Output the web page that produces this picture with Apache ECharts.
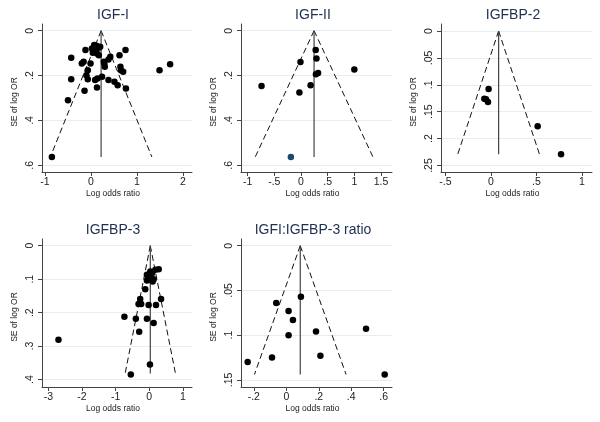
<!DOCTYPE html>
<html><head><meta charset="utf-8">
<script src="https://cdn.jsdelivr.net/npm/echarts@6/dist/echarts.min.js"></script>
<style>html,body{margin:0;padding:0;background:#fff}#c{width:600px;height:422px}</style>
</head><body><div id="c"></div>
<script>
// ---- data ----
const titles = ['IGF-I', 'IGF-II', 'IGFBP-2', 'IGFBP-3', 'IGFI:IGFBP-3 ratio'];

const igf1X  = [-0.85,-0.50,-0.43,-0.43,-0.20,-0.16,-0.12,-0.14,-0.10,-0.07,-0.07,-0.01,0.04,0.08,0.12,0.13,0.17,0.20,0.09,0.13,0.14,0.24,0.17,0.28,0.30,0.29,0.38,0.42,0.38,0.51,0.58,0.62,0.64,0.65,0.70,0.75,0.76,1.49,1.72,0.07,0.02];
const igf1SE = [0.563,0.310,0.216,0.121,0.146,0.138,0.086,0.268,0.198,0.176,0.216,0.146,0.098,0.086,0.067,0.101,0.076,0.071,0.220,0.253,0.213,0.205,0.109,0.138,0.161,0.146,0.128,0.116,0.220,0.228,0.243,0.109,0.161,0.176,0.183,0.086,0.258,0.176,0.149,0.064,0.079];

const igf2X  = [0.275,0.29,-0.01,1.00,0.32,0.28,-0.74,0.18,-0.03];
const igf2SE = [0.086,0.124,0.140,0.173,0.188,0.194,0.247,0.243,0.275];
const igf2BlueX  = [-0.19];
const igf2BlueSE = [0.563];

const bp2X  = [-0.026,-0.073,-0.055,-0.033,0.513,0.77];
const bp2SE = [0.108,0.126,0.127,0.132,0.177,0.229];

const bp3X  = [0.03,0.18,0.28,-0.07,0.05,0.13,-0.07,0.10,0.08,-0.03,-0.12,-0.27,0.35,-0.32,-0.24,-0.02,0.20,-0.74,-0.40,-0.07,0.13,-0.30,-2.70,0.02,-0.55];
const bp3SE = [0.077,0.072,0.070,0.087,0.092,0.100,0.104,0.107,0.082,0.095,0.130,0.159,0.159,0.174,0.174,0.177,0.177,0.212,0.218,0.218,0.231,0.257,0.281,0.355,0.385];

const ratioX  = [0.09,-0.062,0.014,0.041,0.014,0.183,0.491,0.21,-0.088,-0.238,0.606];
const ratioSE = [0.057,0.064,0.073,0.083,0.100,0.096,0.093,0.123,0.125,0.130,0.144];

const pooled = [0.22, 0.245, 0.084, 0.03, 0.086];
const seMax  = [0.563, 0.563, 0.229, 0.382, 0.144];

const xTicks = [[-1,0,1,2],[-1,-0.5,0,0.5,1,1.5],[-0.5,0,0.5,1],[-3,-2,-1,0,1],[-0.2,0,0.2,0.4,0.6]];
const yTicks = [[0,0.2,0.4,0.6],[0,0.2,0.4,0.6],[0,0.05,0.1,0.15,0.2,0.25],[0,0.1,0.2,0.3,0.4],[0,0.05,0.1,0.15]];

// ---- layout ----
const xRange = [[-1.065,2.196],[-1.125,1.706],[-0.549,1.11],[-3.19,1.27],[-0.279,0.651]];
const yRange = [[-0.030,0.630],[-0.030,0.630],[-0.013,0.262],[-0.020,0.422],[-0.0075,0.158]];
const grids = [
  {left:42, top:24, width:150, height:148},
  {left:241, top:24, width:151, height:148},
  {left:441, top:24, width:151, height:148},
  {left:42, top:239, width:150, height:148},
  {left:241, top:239, width:151, height:148}
];
const titlePos = [[113,8],[313,8],[513,8],[113,223],[313,223]];

const FONT = '"Liberation Sans", Arial, sans-serif';
const fmt = v => { let s = String(+(+v).toFixed(4)); return s.replace(/^(-?)0\./, '$1.'); };
const zip = (a, b) => a.map((v, i) => [v, b[i]]);

const pointsX = [igf1X, igf2X, bp2X, bp3X, ratioX];
const pointsSE = [igf1SE, igf2SE, bp2SE, bp3SE, ratioSE];

const option = {
  animation: false,
  backgroundColor: '#fff',
  title: titles.map((t, i) => ({
    text: t, left: titlePos[i][0], top: titlePos[i][1], textAlign: 'center', padding: 0,
    textStyle: {fontSize: 14, fontWeight: 'normal', color: '#1e2f50', fontFamily: FONT}
  })),
  grid: grids.map(g => Object.assign({containLabel: false}, g)),
  xAxis: xTicks.map((tk, i) => ({
    gridIndex: i, type: 'value', min: xRange[i][0], max: xRange[i][1],
    name: 'Log odds ratio', nameLocation: 'middle', nameGap: 16,
    nameTextStyle: {fontSize: 8.5, color: '#222', fontFamily: FONT, padding: [0, 8, 0, 0]},
    axisLine: {show: true, onZero: false, lineStyle: {color: '#444', width: 1}},
    axisTick: {show: true, length: 4, customValues: tk, lineStyle: {color: '#444'}},
    axisLabel: {customValues: tk, formatter: fmt, fontSize: 10.5, color: '#222', margin: 5, fontFamily: FONT, hideOverlap: false},
    splitLine: {show: false}
  })),
  yAxis: yTicks.map((tk, i) => ({
    gridIndex: i, type: 'value', inverse: true, min: yRange[i][0], max: yRange[i][1],
    name: 'SE of log OR', nameLocation: 'middle', nameGap: 23,
    nameTextStyle: {fontSize: 8.5, color: '#222', fontFamily: FONT, padding: [0, 8, 0, 0]},
    axisLine: {show: true, onZero: false, lineStyle: {color: '#444', width: 1}},
    axisTick: {show: true, length: 4, customValues: tk, lineStyle: {color: '#444'}},
    axisLabel: {customValues: tk, formatter: fmt, rotate: 90, fontSize: 10.5, color: '#222', margin: 6, fontFamily: FONT, hideOverlap: false},
    splitLine: {show: true, lineStyle: {color: '#e6eef0', width: 1}}
  })),
  series: []
};

for (let i = 0; i < 5; i++) {
  const p = pooled[i], m = seMax[i];
  const lineBase = {type: 'line', xAxisIndex: i, yAxisIndex: i, symbol: 'none', silent: true, z: 2};
  option.series.push(Object.assign({}, lineBase, {data: [[p, 0], [p - 1.96 * m, m]], lineStyle: {color: '#111', width: 1, type: [6, 3.5]}}));
  option.series.push(Object.assign({}, lineBase, {data: [[p, 0], [p + 1.96 * m, m]], lineStyle: {color: '#111', width: 1, type: [6, 3.5]}}));
  option.series.push(Object.assign({}, lineBase, {data: [[p, 0], [p, m]], lineStyle: {color: '#444', width: 1.2}}));
  option.series.push({type: 'scatter', xAxisIndex: i, yAxisIndex: i, symbolSize: 6.5, z: 5, silent: true,
    itemStyle: {color: '#000', opacity: 1}, data: zip(pointsX[i], pointsSE[i])});
}
option.series.push({type: 'scatter', xAxisIndex: 1, yAxisIndex: 1, symbolSize: 6.5, z: 5, silent: true,
  itemStyle: {color: '#1a476f', opacity: 1}, data: zip(igf2BlueX, igf2BlueSE)});

const chart = echarts.init(document.getElementById('c'), null, {renderer: 'canvas'});
chart.setOption(option);
</script>
</body></html>
